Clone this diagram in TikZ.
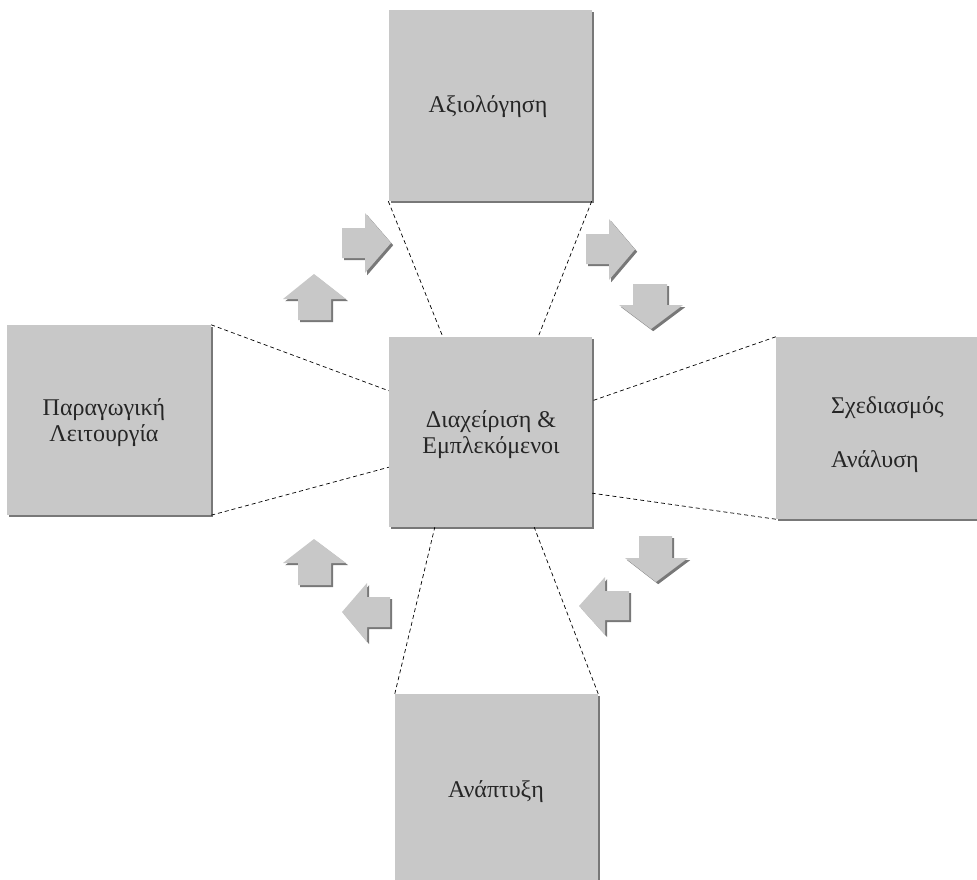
\documentclass[tikz,border=0pt]{standalone}
\usepackage{fontspec}
\setmainfont{Liberation Serif}
\begin{document}
\begin{tikzpicture}[x=1pt,y=-1pt,
  boxgray/.style={fill={rgb,255:red,200;green,200;blue,200}},
  shade/.style={preaction={fill={rgb,255:red,120;green,120;blue,120},
      transform canvas={xshift=2.2pt,yshift=-2.2pt}}},
  phase/.style={boxgray, shade, rectangle, inner sep=0pt,
      minimum width=#1},
  phase/.default=203pt,
  caption/.style={font=\fontsize{24}{26}\selectfont, anchor=base,
      text=black!85, inner sep=0pt, align=center},
  link/.style={draw=black, line width=0.7pt, dash pattern=on 4pt off 3pt},
  blockarrow/.style={boxgray, shade}]
\useasboundingbox (0,0) rectangle (977,880);

% the five phase boxes
\node[phase, minimum height=191pt] (eval) at (490,105.5) {};
\node[phase, minimum height=190pt] (mgmt) at (490.5,432) {};
\node[phase=204pt, minimum height=190pt] (prod) at (109,420) {};
\node[phase, minimum height=182pt] (design) at (877.5,428) {};
\node[phase, minimum height=192pt] (dev) at (496.5,790) {};

% captions (base anchor sits on the last line)
\node[caption] (evalT) at (488,113) {Αξιολόγηση};
\node[caption] (mgmtT) at (491,453) {Διαχείριση \&\\Εμπλεκόμενοι};
\node[caption] (prodT) at (104,441) {Παραγωγική\\Λειτουργία};
\node[caption, anchor=base west, align=left] (designT) at (831,467)
  {Σχεδιασμός\\[28pt]Ανάλυση};
\node[caption] (devT) at (496,797) {Ανάπτυξη};

% dashed links from the centre box to the others
\draw[link] (eval.south west) -- ([xshift=54pt]mgmt.north west);
\draw[link] (eval.south east) -- ([xshift=-54pt]mgmt.north east);
\draw[link] (prod.north east) -- ([yshift=-54pt]mgmt.north west);
\draw[link] (prod.south east) -- ([yshift=60pt]mgmt.south west);
\draw[link] (design.north west) -- ([yshift=-64pt]mgmt.north east);
\draw[link] (design.south west) -- ([yshift=34pt]mgmt.south east);
\draw[link] (dev.north west) -- ([xshift=46pt]mgmt.south west);
\draw[link] (dev.north east) -- ([xshift=-58pt]mgmt.south east);

% block arrows of the cycle
\fill[blockarrow] (314,274) -- (346,299) -- (331,299) -- (331,320)
  -- (298,320) -- (298,299) -- (283,299) -- cycle;
\fill[blockarrow] (342,228) -- (365,228) -- (365,213) -- (391,243)
  -- (365,273) -- (365,258) -- (342,258) -- cycle;
\fill[blockarrow] (586,234) -- (609,234) -- (609,219) -- (635,249.5)
  -- (609,280) -- (609,264) -- (586,264) -- cycle;
\fill[blockarrow] (633,284) -- (667,284) -- (667,305) -- (683,305)
  -- (651,329) -- (619,305) -- (633,305) -- cycle;
\fill[blockarrow] (656,582) -- (688,558) -- (672,558) -- (672,536)
  -- (639,536) -- (639,558) -- (625,558) -- cycle;
\fill[blockarrow] (579,606) -- (605,577) -- (605,591) -- (629,591)
  -- (629,620) -- (605,620) -- (605,635) -- cycle;
\fill[blockarrow] (342,612) -- (367,583) -- (367,597) -- (390,597)
  -- (390,627) -- (367,627) -- (367,642) -- cycle;
\fill[blockarrow] (314,539) -- (346,563) -- (331,563) -- (331,585)
  -- (298,585) -- (298,563) -- (283,563) -- cycle;
\end{tikzpicture}
\end{document}
